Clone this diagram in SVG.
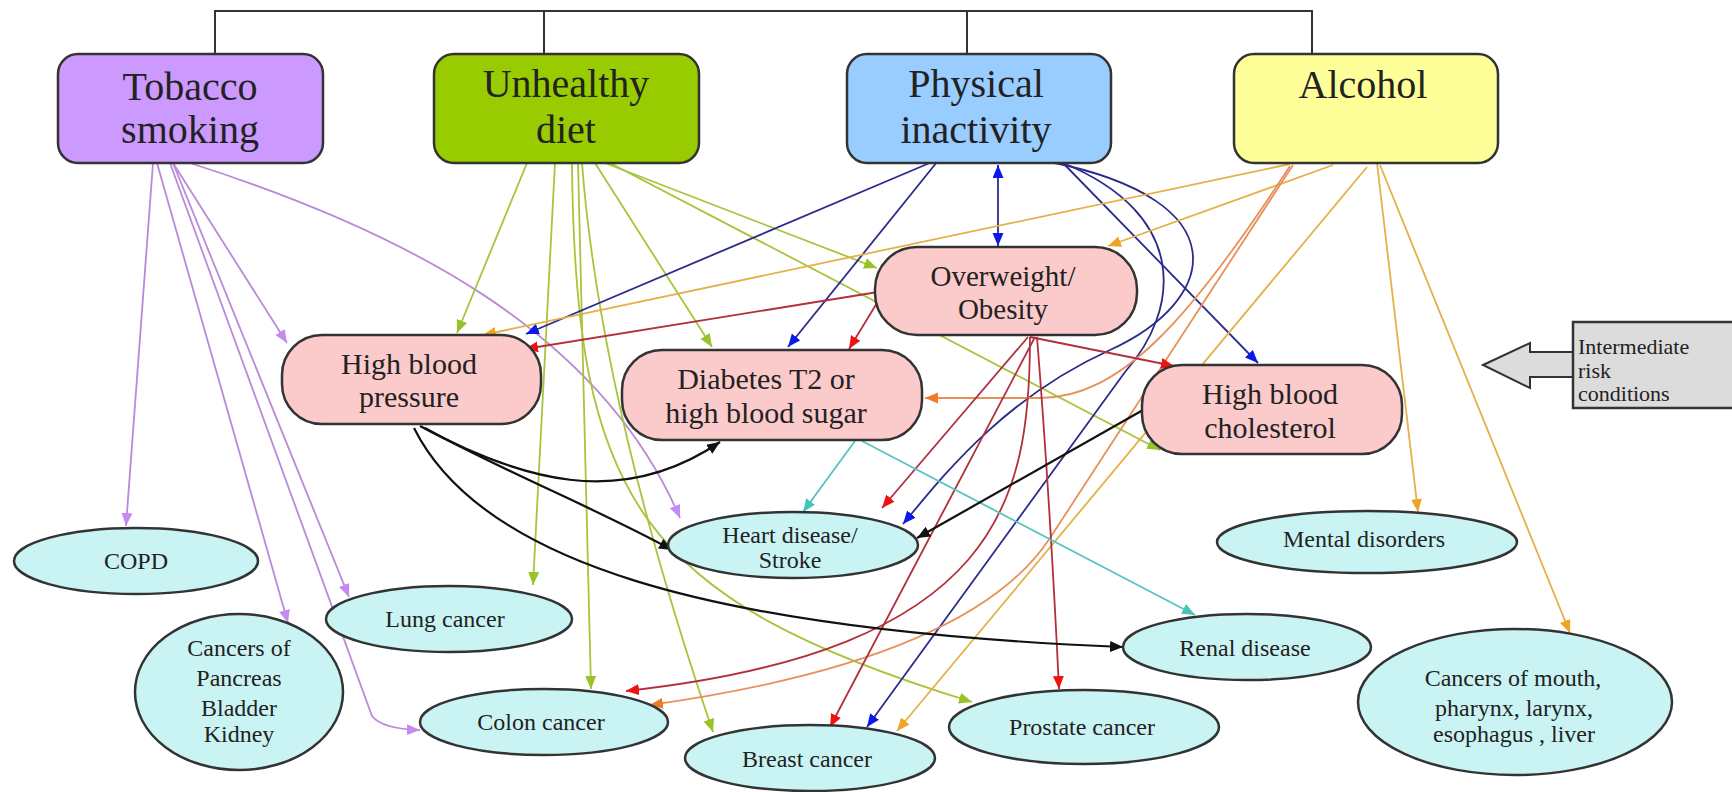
<svg xmlns="http://www.w3.org/2000/svg" width="1732" height="792" viewBox="0 0 1732 792">
<style>
text{font-family:"Liberation Serif","Times New Roman",serif;fill:#222;text-anchor:middle}
.top{font-size:40px}
.mid{font-size:30px}
.low{font-size:24px}
.box{stroke:#333;stroke-width:2.5}
.pink{fill:#fbcaca;stroke:#333;stroke-width:2.5}
.ell{fill:#caf4f4;stroke:#333;stroke-width:2.5}
.e{fill:none;stroke-width:1.8}
.vi{stroke:#b98ad8;marker-end:url(#mVi)}
.gr{stroke:#a8c43c;marker-end:url(#mGr)}
.bl{stroke:#2b2b8c;marker-end:url(#mBl)}
.or{stroke:#e6b048;marker-end:url(#mOr)}
.or2{stroke:#e8905a;marker-end:url(#mOr2)}
.rd{stroke:#b0303c;marker-end:url(#mRd)}
.bk{stroke:#111;stroke-width:2.2;marker-end:url(#mBk)}
.te{stroke:#56c4c0;marker-end:url(#mTe)}
.tree{fill:none;stroke:#333;stroke-width:2}
</style>
<defs>
<marker id="mVi" markerUnits="userSpaceOnUse" markerWidth="14" markerHeight="12" refX="13" refY="5.5" orient="auto"><path d="M0,0 L13,5.5 L0,11 z" fill="#c58af0"/></marker>
<marker id="mGr" markerUnits="userSpaceOnUse" markerWidth="14" markerHeight="12" refX="13" refY="5.5" orient="auto"><path d="M0,0 L13,5.5 L0,11 z" fill="#99c22a"/></marker>
<marker id="mBl" markerUnits="userSpaceOnUse" markerWidth="14" markerHeight="12" refX="13" refY="5.5" orient="auto-start-reverse"><path d="M0,0 L13,5.5 L0,11 z" fill="#0a18e8"/></marker>
<marker id="mOr" markerUnits="userSpaceOnUse" markerWidth="14" markerHeight="12" refX="13" refY="5.5" orient="auto"><path d="M0,0 L13,5.5 L0,11 z" fill="#f0a424"/></marker>
<marker id="mOr2" markerUnits="userSpaceOnUse" markerWidth="14" markerHeight="12" refX="13" refY="5.5" orient="auto"><path d="M0,0 L13,5.5 L0,11 z" fill="#f07a28"/></marker>
<marker id="mRd" markerUnits="userSpaceOnUse" markerWidth="14" markerHeight="12" refX="13" refY="5.5" orient="auto"><path d="M0,0 L13,5.5 L0,11 z" fill="#ee1212"/></marker>
<marker id="mBk" markerUnits="userSpaceOnUse" markerWidth="14" markerHeight="12" refX="13" refY="5.5" orient="auto"><path d="M0,0 L13,5.5 L0,11 z" fill="#111"/></marker>
<marker id="mTe" markerUnits="userSpaceOnUse" markerWidth="14" markerHeight="12" refX="13" refY="5.5" orient="auto"><path d="M0,0 L13,5.5 L0,11 z" fill="#44c4bc"/></marker>
</defs>
<rect width="1732" height="792" fill="#ffffff"/>

<g id="connectors">
<path class="tree" d="M215,54 V11 H1312 V54 M544,11 V54 M967,11 V54"/>
<!-- Tobacco -->
<path class="e vi" d="M153,163 L126,526"/>
<path class="e vi" d="M157,163 L288,623"/>
<path class="e vi" d="M173,163 L349,597"/>
<path class="e vi" d="M170,163 L372,716 Q382,729 420,730"/>
<path class="e vi" d="M173,163 L287,343"/>
<path class="e vi" d="M190,163 C400,230 600,330 680,518"/>
<!-- Unhealthy diet -->
<path class="e gr" d="M527,163 L457,333"/>
<path class="e gr" d="M555,163 L533,585"/>
<path class="e gr" d="M578,163 L591,689"/>
<path class="e gr" d="M582,163 Q600,400 713,732"/>
<path class="e gr" d="M595,163 L712,347"/>
<path class="e gr" d="M605,163 L877,268"/>
<path class="e gr" d="M610,163 L1160,450"/>
<path class="e gr" d="M572,163 C575,500 640,600 972,702"/>
<!-- Physical inactivity -->
<path class="e bl" d="M932,162 L526,334"/>
<path class="e bl" d="M937,162 L788,347"/>
<path class="e bl" d="M998,165 L998,246" marker-start="url(#mBl)"/>
<path class="e bl" d="M1063,163 L1258,363"/>
<path class="e bl" d="M1050,162 C1240,200 1220,300 1110,350 C1000,400 940,480 903,524"/>
<path class="e bl" d="M1063,163 C1190,215 1180,310 1125,372 L867,727"/>
<!-- Alcohol -->
<path class="e or" d="M1290,164 L483,335"/>
<path class="e or" d="M1333,165 L1108,246"/>
<path class="e or" d="M1377,163 L1418,512"/>
<path class="e or" d="M1380,165 L1570,633"/>
<path class="e or2" d="M1290,166 C1190,320 1120,398 1040,398 L925,398"/>
<path class="e or2" d="M1293,165 L1050,538 Q970,660 650,705"/>
<path class="e or" d="M1367,167 L897,731"/>
<!-- Overweight -->
<path class="e rd" d="M878,292 L525,349"/>
<path class="e rd" d="M880,298 L849,349"/>
<path class="e rd" d="M1030,337 L1174,366"/>
<path class="e rd" d="M1028,337 L882,508"/>
<path class="e rd" d="M1030,337 C1030,500 1000,650 626,691"/>
<path class="e rd" d="M1035,337 L830,727"/>
<path class="e rd" d="M1037,337 Q1050,500 1059,689"/>
<!-- High blood pressure -->
<path class="e bk" d="M420,426 C520,480 620,510 720,442"/>
<path class="e bk" d="M425,428 C500,470 600,510 672,550"/>
<path class="e bk" d="M414,428 C480,560 700,630 1123,647"/>
<!-- Diabetes -->
<path class="e te" d="M855,441 L803,512"/>
<path class="e te" d="M862,441 L1195,615"/>
<!-- Cholesterol -->
<path class="e bk" d="M1143,410 L917,538"/>
</g>

<g id="tobacco">
<rect class="box" x="58" y="54" width="265" height="109" rx="20" fill="#cc99ff"/>
<text class="top" x="190" y="100">Tobacco</text>
<text class="top" x="190" y="143">smoking</text>
</g>
<g id="diet">
<rect class="box" x="434" y="54" width="265" height="109" rx="20" fill="#99cc00"/>
<text class="top" x="566" y="97">Unhealthy</text>
<text class="top" x="566" y="143">diet</text>
</g>
<g id="inactivity">
<rect class="box" x="847" y="54" width="264" height="109" rx="20" fill="#99ccff"/>
<text class="top" x="976" y="97">Physical</text>
<text class="top" x="976" y="143">inactivity</text>
</g>
<g id="alcohol">
<rect class="box" x="1234" y="54" width="264" height="109" rx="20" fill="#ffff99"/>
<text class="top" x="1363" y="98">Alcohol</text>
</g>

<g id="overweight">
<rect class="pink" x="875" y="247" width="262" height="88" rx="42"/>
<text class="mid" x="1003" y="286" style="font-size:29px">Overweight/</text>
<text class="mid" x="1003" y="319" style="font-size:29px">Obesity</text>
</g>
<g id="hbp">
<rect class="pink" x="282" y="335" width="259" height="89" rx="40"/>
<text class="mid" x="409" y="374">High blood</text>
<text class="mid" x="409" y="407">pressure</text>
</g>
<g id="diabetes">
<rect class="pink" x="622" y="350" width="300" height="90" rx="40"/>
<text class="mid" x="766" y="389">Diabetes T2 or</text>
<text class="mid" x="766" y="423">high blood sugar</text>
</g>
<g id="cholesterol">
<rect class="pink" x="1142" y="365" width="260" height="89" rx="40"/>
<text class="mid" x="1270" y="404">High blood</text>
<text class="mid" x="1270" y="438">cholesterol</text>
</g>

<g id="intermediate">
<polygon points="1483,365 1530,343 1530,352 1573,352 1573,377 1530,377 1530,388" fill="#dcdcdc" stroke="#333" stroke-width="2"/>
<rect x="1573" y="322" width="170" height="86" fill="#dcdcdc" stroke="#333" stroke-width="2.5"/>
<text x="1578" y="354" style="font-size:22px;text-anchor:start">Intermediate</text>
<text x="1578" y="378" style="font-size:22px;text-anchor:start">risk</text>
<text x="1578" y="401" style="font-size:22px;text-anchor:start">conditions</text>
</g>

<g id="copd">
<ellipse class="ell" cx="136" cy="561" rx="122" ry="33"/>
<text class="low" x="136" y="569">COPD</text>
</g>
<g id="lung">
<ellipse class="ell" cx="449" cy="619" rx="123" ry="33"/>
<text class="low" x="445" y="627">Lung cancer</text>
</g>
<g id="pancreas">
<ellipse class="ell" cx="239" cy="692" rx="104" ry="78"/>
<text class="low" x="239" y="656">Cancers of</text>
<text class="low" x="239" y="686">Pancreas</text>
<text class="low" x="239" y="716">Bladder</text>
<text class="low" x="239" y="742">Kidney</text>
</g>
<g id="colon">
<ellipse class="ell" cx="544" cy="722" rx="124" ry="33"/>
<text class="low" x="541" y="730">Colon cancer</text>
</g>
<g id="heart">
<ellipse class="ell" cx="793" cy="545" rx="125" ry="33"/>
<text class="low" x="790" y="543">Heart disease/</text>
<text class="low" x="790" y="568">Stroke</text>
</g>
<g id="breast">
<ellipse class="ell" cx="810" cy="758" rx="125" ry="33"/>
<text class="low" x="807" y="767">Breast cancer</text>
</g>
<g id="renal">
<ellipse class="ell" cx="1247" cy="647" rx="124" ry="33"/>
<text class="low" x="1245" y="656">Renal disease</text>
</g>
<g id="prostate">
<ellipse class="ell" cx="1084" cy="727" rx="135" ry="37"/>
<text class="low" x="1082" y="735">Prostate cancer</text>
</g>
<g id="mental">
<ellipse class="ell" cx="1367" cy="542" rx="150" ry="31"/>
<text class="low" x="1364" y="547">Mental disorders</text>
</g>
<g id="mouth">
<ellipse class="ell" cx="1515" cy="702" rx="157" ry="73"/>
<text class="low" x="1513" y="686">Cancers of mouth,</text>
<text class="low" x="1514" y="716">pharynx, larynx,</text>
<text class="low" x="1514" y="742">esophagus , liver</text>
</g>
</svg>
